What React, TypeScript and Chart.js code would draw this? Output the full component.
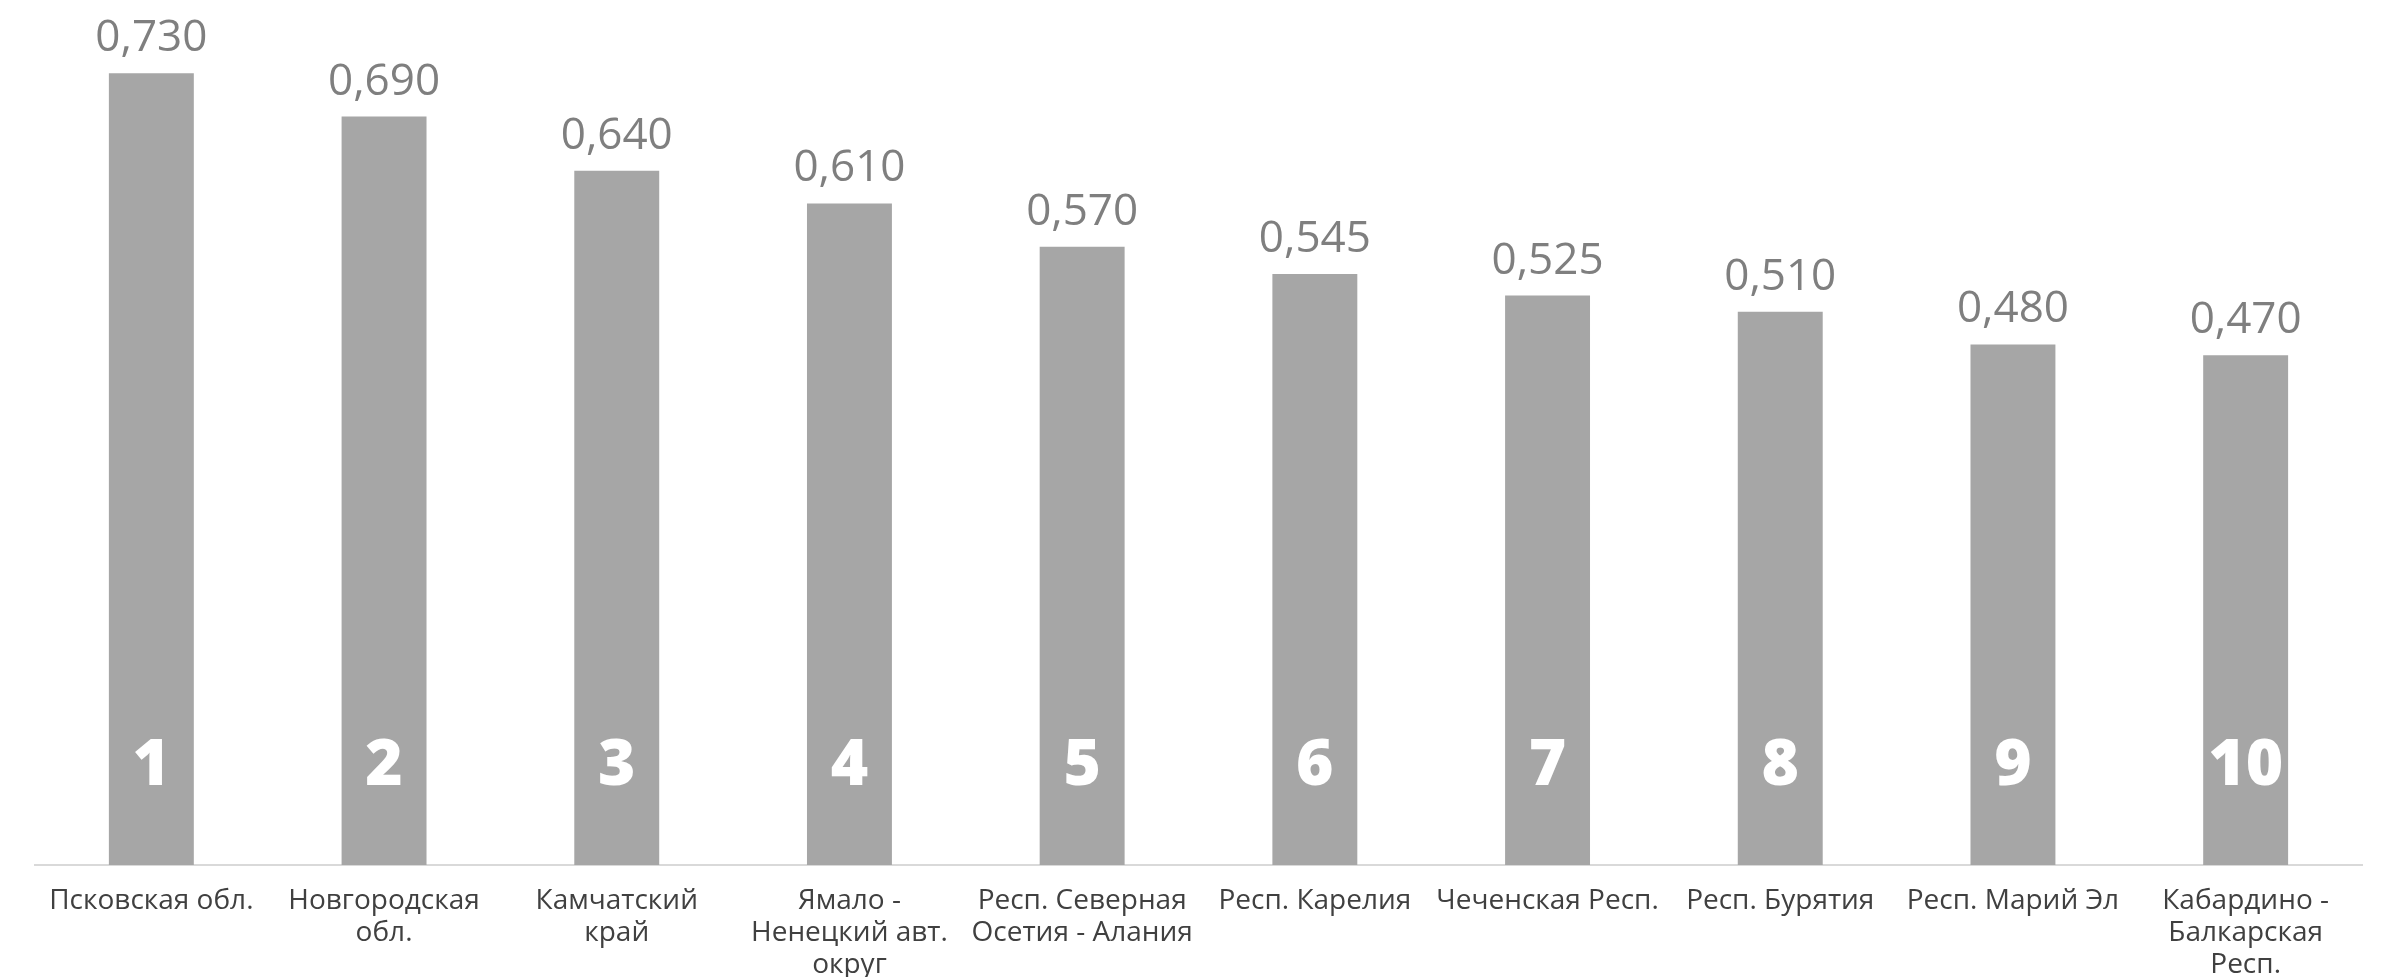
import React, { useEffect, useRef } from "react";
import { Chart, registerables } from "chart.js";

Chart.register(...registerables);

const categories: string[][] = [
  ["Псковская обл."],
  ["Новгородская", "обл."],
  ["Камчатский", "край"],
  ["Ямало -", "Ненецкий авт.", "округ"],
  ["Респ. Северная", "Осетия - Алания"],
  ["Респ. Карелия"],
  ["Чеченская Респ."],
  ["Респ. Бурятия"],
  ["Респ. Марий Эл"],
  ["Кабардино -", "Балкарская", "Респ."],
];

const values: number[] = [0.73, 0.69, 0.64, 0.61, 0.57, 0.545, 0.525, 0.51, 0.48, 0.47];

const ranks: string[] = ["1", "2", "3", "4", "5", "6", "7", "8", "9", "10"];

const FONT = "'Open Sans', 'DejaVu Sans', sans-serif";

const labelPlugin = {
  id: "barLabels",
  afterDatasetsDraw(chart: any) {
    const ctx = chart.ctx;
    const meta = chart.getDatasetMeta(0);
    ctx.save();
    meta.data.forEach((bar: any, i: number) => {
      const v = values[i];
      ctx.textAlign = "center";
      ctx.textBaseline = "alphabetic";
      ctx.fillStyle = "#7f7f7f";
      ctx.font = `400 44px ${FONT}`;
      ctx.fillText(v.toFixed(3).replace(".", ","), bar.x, bar.y - 22);
      ctx.fillStyle = "#ffffff";
      ctx.font = `800 64px ${FONT}`;
      ctx.fillText(ranks[i], bar.x, bar.base - 80);
    });
    ctx.restore();
  },
};

export default function App() {
  const ref = useRef<HTMLCanvasElement>(null);
  useEffect(() => {
    if (!ref.current) return;
    const chart = new Chart(ref.current, {
      type: "bar",
      data: {
        labels: categories,
        datasets: [
          {
            data: values,
            backgroundColor: "#a6a6a6",
            borderWidth: 0,
            barPercentage: 0.365,
            categoryPercentage: 1,
          },
        ],
      },
      options: {
        animation: false,
        responsive: true,
        maintainAspectRatio: false,
        layout: { padding: { left: 35, right: 37, top: 19, bottom: 0 } },
        plugins: {
          legend: { display: false },
          tooltip: { enabled: false },
        },
        scales: {
          x: {
            grid: { display: false },
            border: { display: true, color: "#d9d9d9", width: 2 },
            ticks: {
              color: "#404040",
              font: { family: FONT, size: 28, lineHeight: "32px" as any },
              padding: 12,
              maxRotation: 0,
              autoSkip: false,
            },
            afterFit: (scale: any) => {
              scale.height = 112;
            },
          },
          y: {
            display: false,
            min: 0,
            max: 0.78,
          },
        },
      },
      plugins: [labelPlugin],
    });
    return () => chart.destroy();
  }, []);
  return (
    <div style={{ position: "fixed", left: 0, top: 0, width: 2399, height: 977, background: "#fff" }}>
      <canvas ref={ref} />
    </div>
  );
}
